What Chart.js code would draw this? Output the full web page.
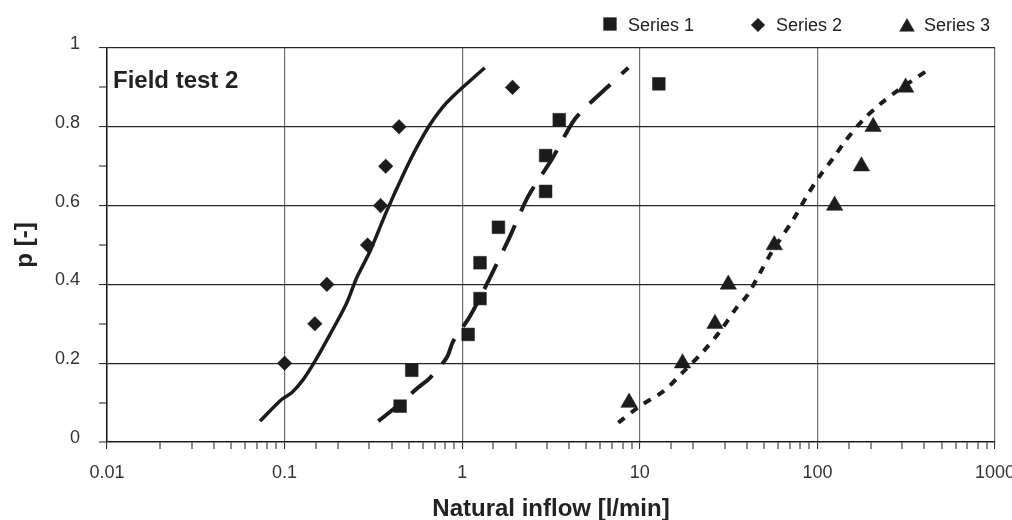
<!DOCTYPE html>
<html>
<head>
<meta charset="utf-8">
<script src="https://cdn.jsdelivr.net/npm/chart.js@4.4.1/dist/chart.umd.min.js"></script>
<style>
html,body{margin:0;padding:0;background:#ffffff;}
#wrap{width:1012px;height:520px;position:relative;}
</style>
</head>
<body>
<div id="wrap"><canvas id="c" width="1012" height="520"></canvas></div>
<script>
// ---- data ----
const xTickLabels = ['0.01', '0.1', '1', '10', '100', '1000'];
const yTickLabels = ['0', '0.2', '0.4', '0.6', '0.8', '1'];
const seriesNames = ['Series 1', 'Series 2', 'Series 3'];
const chartTitle = 'Field test 2';
const xTitle = 'Natural inflow [l/min]';
const yTitle = 'p [-]';

// Series 1 (squares)
const s1x = [0.447, 0.52, 1.08, 1.26, 1.26, 1.6, 2.95, 2.95, 3.52, 12.8];
const s1y = [0.091, 0.182, 0.273, 0.364, 0.455, 0.545, 0.636, 0.727, 0.818, 0.909];
// Series 2 (diamonds)
const s2x = [0.1, 0.148, 0.173, 0.293, 0.347, 0.371, 0.441, 1.92];
const s2y = [0.2, 0.3, 0.4, 0.5, 0.6, 0.7, 0.8, 0.9];
// Series 3 (triangles)
const s3x = [8.7, 17.4, 26.5, 31.5, 57.2, 125, 177, 206, 314];
const s3y = [0.1, 0.2, 0.3, 0.4, 0.5, 0.6, 0.7, 0.8, 0.9];

// fitted curve for Series 2 (solid)
const f2x = [0.0727, 0.0962, 0.1096, 0.1275, 0.1483, 0.1802, 0.2237, 0.2547, 0.3026, 0.3757, 0.466, 0.554, 0.659, 0.783, 0.891, 1.0, 1.34];
const f2y = [0.053, 0.108, 0.125, 0.159, 0.205, 0.273, 0.353, 0.417, 0.484, 0.586, 0.679, 0.747, 0.806, 0.852, 0.878, 0.899, 0.95];
// fitted curve for Series 1 (long dash)
const f1x = [0.337, 0.447, 0.554, 0.659, 0.818, 0.891, 1.106, 1.434, 1.858, 2.356, 3.19, 4.22, 5.02, 6.51, 8.61];
const f1y = [0.053, 0.097, 0.135, 0.163, 0.214, 0.256, 0.319, 0.417, 0.522, 0.624, 0.717, 0.814, 0.852, 0.899, 0.95];
// fitted curve for Series 3 (short dash)
const f3x = [7.57, 10, 13.6, 17.4, 22.8, 28.3, 35.1, 40, 47.5, 56.5, 73.2, 87.1, 103, 123, 143, 181, 225, 279, 421];
const f3y = [0.049, 0.091, 0.129, 0.176, 0.23, 0.281, 0.341, 0.37, 0.429, 0.489, 0.565, 0.624, 0.675, 0.721, 0.763, 0.818, 0.857, 0.89, 0.945];

const pts = (xs, ys) => xs.map((x, i) => ({x: x, y: ys[i]}));
const INK = '#1c1c1c';
const FONT = '"Liberation Sans", Arial, Helvetica, sans-serif';

function isDecade(v) {
  const l = Math.log10(v);
  return Math.abs(l - Math.round(l)) < 1e-9;
}

const titlePlugin = {
  id: 'insideTitle',
  afterDraw(chart) {
    const ctx = chart.ctx, a = chart.chartArea;
    ctx.save();
    ctx.fillStyle = '#222';
    ctx.font = 'bold 24px ' + FONT;
    ctx.textBaseline = 'alphabetic';
    ctx.textAlign = 'left';
    ctx.fillText(chartTitle, a.left + 6, a.top + 40);
    ctx.restore();
  }
};

const legendPlugin = {
  id: 'customLegend',
  afterDraw(chart) {
    const ctx = chart.ctx;
    const items = [
      {ds: 0, mx: 610, my: 24, r: 9, tx: 628},
      {ds: 1, mx: 758, my: 25, r: 6.8, tx: 776},
      {ds: 2, mx: 907, my: 27, r: 8.5, tx: 924}
    ];
    ctx.save();
    items.forEach(it => {
      const d = chart.data.datasets[it.ds];
      ctx.fillStyle = INK;
      ctx.strokeStyle = INK;
      ctx.lineWidth = 0.5;
      Chart.helpers.drawPoint(ctx, {pointStyle: d.pointStyle, radius: it.r, borderWidth: 0.5, rotation: 0}, it.mx, it.my);
      ctx.fillStyle = '#222';
      ctx.font = '18px ' + FONT;
      ctx.textBaseline = 'alphabetic';
      ctx.textAlign = 'left';
      ctx.fillText(d.label, it.tx, 31);
    });
    ctx.restore();
  }
};

new Chart(document.getElementById('c'), {
  type: 'scatter',
  data: {
    datasets: [
      {label: seriesNames[0], data: pts(s1x, s1y), pointStyle: 'rect', pointRadius: 9, pointHoverRadius: 9,
       backgroundColor: INK, borderColor: INK, borderWidth: 0.5, showLine: false},
      {label: seriesNames[1], data: pts(s2x, s2y), pointStyle: 'rectRot', pointRadius: 7.3, pointHoverRadius: 7.3,
       backgroundColor: INK, borderColor: INK, borderWidth: 0.5, showLine: false},
      {label: seriesNames[2], data: pts(s3x, s3y), pointStyle: 'triangle', pointRadius: 9.5, pointHoverRadius: 9.5,
       backgroundColor: INK, borderColor: INK, borderWidth: 0.5, showLine: false},
      {label: 'fit 1', data: pts(f1x, f1y), showLine: true, pointRadius: 0, borderColor: INK, borderWidth: 4,
       borderDash: [28, 15], tension: 0.3, fill: false},
      {label: 'fit 2', data: pts(f2x, f2y), showLine: true, pointRadius: 0, borderColor: INK, borderWidth: 3.5,
       tension: 0.3, fill: false},
      {label: 'fit 3', data: pts(f3x, f3y), showLine: true, pointRadius: 0, borderColor: INK, borderWidth: 4,
       borderDash: [8, 8], tension: 0.3, fill: false}
    ]
  },
  options: {
    responsive: false,
    animation: false,
    devicePixelRatio: 1,
    layout: {padding: {left: 0, right: 17, top: 48, bottom: 0}},
    plugins: {legend: {display: false}, title: {display: false}, tooltip: {enabled: false}},
    events: [],
    scales: {
      x: {
        type: 'logarithmic',
        min: 0.01, max: 1000,
        position: 'bottom',
        border: {display: true, color: INK, width: 1.5},
        grid: {
          color: '#6e6e6e',
          lineWidth: c => (c.tick && isDecade(c.tick.value)) ? 1.2 : 0,
          tickLength: 7,
          tickColor: INK,
          tickWidth: 1,
          drawTicks: true
        },
        ticks: {
          autoSkip: false, maxRotation: 0, minRotation: 0,
          padding: 13, color: '#333',
          font: {family: FONT, size: 18},
          callback: v => isDecade(v) ? xTickLabels[Math.round(Math.log10(v)) + 2] : ''
        },
        title: {display: true, text: xTitle, color: '#222',
          font: {family: FONT, size: 24, weight: 'bold', lineHeight: 1},
          padding: {top: 0, bottom: -1}},
        afterFit: s => { s.height = 78; s.paddingLeft = 0; s.paddingRight = 0; }
      },
      y: {
        type: 'linear',
        min: 0, max: 1,
        border: {display: true, color: INK, width: 1.5},
        grid: {
          color: '#262626',
          lineWidth: c => (c.tick && Math.round(c.tick.value * 10) % 2 === 0 && c.tick.value > 0.05) ? 1.2 : 0,
          tickLength: 8,
          tickColor: INK,
          tickWidth: 1
        },
        ticks: {
          stepSize: 0.1, padding: 19, labelOffset: -4, color: '#333',
          font: {family: FONT, size: 18},
          callback: v => { const k = Math.round(v * 10); return k % 2 === 0 ? yTickLabels[k / 2] : ''; }
        },
        title: {display: true, text: yTitle, color: '#222',
          font: {family: FONT, size: 24, weight: 'bold', lineHeight: 1},
          padding: {top: 13, bottom: 0}},
        afterFit: s => { s.width = 107; s.paddingTop = 0; s.paddingBottom = 0; }
      }
    }
  },
  plugins: [titlePlugin, legendPlugin]
});
</script>
</body>
</html>
